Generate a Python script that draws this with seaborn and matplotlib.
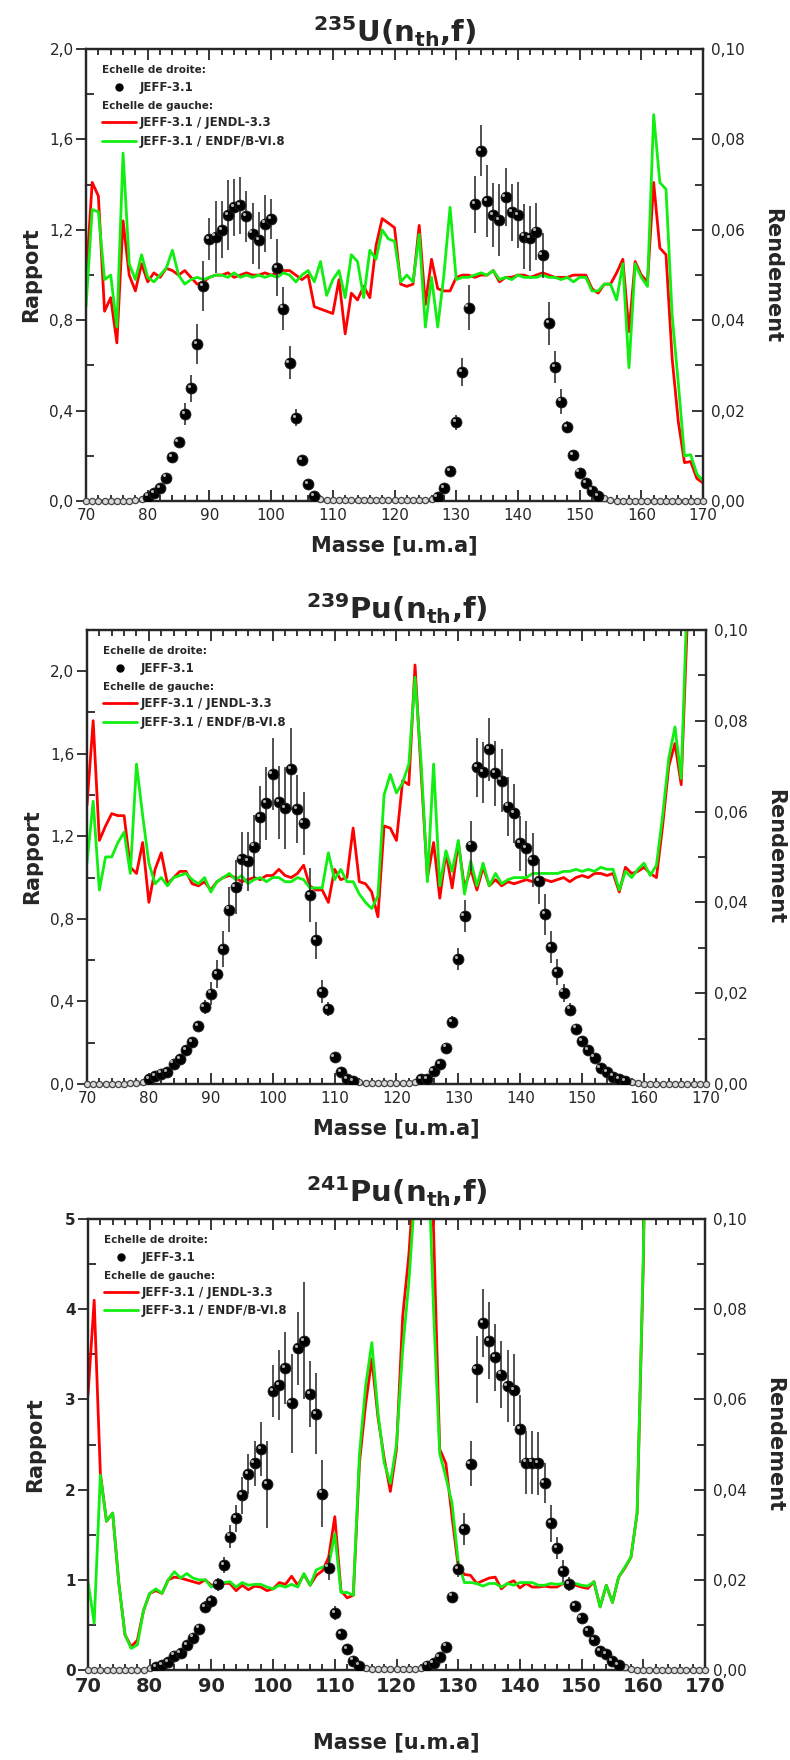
import matplotlib
matplotlib.use("Agg")
import pandas as pd
import matplotlib.pyplot as plt
import seaborn as sns
from matplotlib.lines import Line2D
from matplotlib.ticker import MultipleLocator, FuncFormatter
from matplotlib.transforms import ScaledTranslation

sns.set_style("ticks")
plt.rcParams['font.family'] = ['DejaVu Sans']
plt.rcParams['mathtext.default'] = 'regular'

# Masses 70 ... 170 (u.m.a)
masses = list(range(70, 171))

# ---------------- 235U(nth,f) ----------------
u235_jendl = [
    0.98, 1.41, 1.35, 0.84, 0.90, 0.70, 1.24, 1.00, 0.93, 1.05,
    0.97, 1.01, 0.99, 1.03, 1.02, 1.00, 1.02, 0.99, 0.96, 0.97,
    0.99, 1.00, 1.00, 1.01, 0.99, 1.00, 1.01, 1.00, 1.00, 1.01,
    1.00, 1.01, 1.02, 1.02, 1.00, 0.98, 1.00, 0.86, 0.85, 0.84,
    0.83, 0.98, 0.74, 0.92, 0.89, 0.95, 0.90, 1.13, 1.25, 1.23,
    1.21, 0.96, 0.95, 0.96, 1.22, 0.87, 1.07, 0.94, 0.93, 0.93,
    0.99, 1.00, 1.00, 0.99, 1.00, 1.00, 1.02, 0.97, 0.99, 0.99,
    1.00, 1.00, 0.99, 1.00, 1.01, 1.00, 0.99, 0.99, 0.99, 1.00,
    1.00, 1.00, 0.94, 0.92, 0.96, 0.96, 1.01, 1.07, 0.75, 1.06,
    1.00, 0.97, 1.41, 1.12, 1.09, 0.63, 0.35, 0.17, 0.175, 0.10,
    0.08]
u235_endf = [
    0.86, 1.29, 1.28, 0.98, 1.00, 0.77, 1.54, 1.05, 0.98, 1.09,
    0.99, 0.97, 1.00, 1.03, 1.11, 1.00, 0.96, 0.98, 0.99, 0.98,
    0.99, 1.00, 1.00, 0.99, 1.01, 0.99, 1.00, 0.99, 1.00, 0.99,
    1.00, 0.99, 1.01, 1.00, 0.97, 1.00, 1.02, 0.97, 1.06, 0.91,
    0.98, 1.02, 0.90, 1.09, 1.06, 0.90, 1.11, 1.07, 1.20, 1.16,
    1.15, 0.97, 1.00, 0.97, 1.18, 0.77, 0.99, 0.77, 1.00, 1.30,
    0.98, 0.99, 0.99, 1.00, 1.01, 1.00, 1.02, 0.98, 0.99, 0.98,
    1.00, 0.99, 0.99, 0.99, 1.00, 0.99, 0.99, 0.98, 0.99, 0.97,
    0.99, 0.99, 0.93, 0.93, 0.96, 0.96, 0.89, 1.05, 0.59, 1.05,
    0.99, 0.95, 1.71, 1.41, 1.38, 0.82, 0.52, 0.20, 0.205, 0.12,
    0.09]
u235_yield = [
    0, 0, 0, 0, 0, 0, 0.0001, 0.0001, 0.0002, 0.0005,
    0.0010, 0.0018, 0.0028, 0.0052, 0.0097, 0.0130, 0.0192, 0.0250, 0.0347, 0.0476,
    0.0580, 0.0585, 0.0600, 0.0633, 0.0650, 0.0654, 0.0630, 0.0592, 0.0577, 0.0614,
    0.0624, 0.0516, 0.0426, 0.0306, 0.0184, 0.0091, 0.0038, 0.0011, 0.0005, 0.0003,
    0.0002, 0.0002, 0.0002, 0.0002, 0.0002, 0.0002, 0.0002, 0.0002, 0.0002, 0.0002,
    0.0002, 0.0002, 0.0002, 0.0002, 0.0002, 0.0002, 0.0004, 0.0008, 0.0028, 0.0066,
    0.0174, 0.0285, 0.0428, 0.0657, 0.0775, 0.0664, 0.0633, 0.0622, 0.0673, 0.0639,
    0.0633, 0.0585, 0.0581, 0.0596, 0.0544, 0.0393, 0.0296, 0.0220, 0.0164, 0.0102,
    0.0063, 0.0039, 0.0023, 0.0011, 0.0006, 0.0003, 0.0001, 0, 0, 0,
    0, 0, 0, 0, 0, 0, 0, 0, 0, 0,
    0]
u235_err = [
    0, 0, 0, 0, 0, 0, 0, 0, 0, 0,
    0, 0, 0, 0.0004, 0.0006, 0.0008, 0.0024, 0.0030, 0.0044, 0.0055,
    0.0046, 0.0080, 0.0063, 0.0077, 0.0063, 0.0063, 0.0057, 0.0068, 0.0063, 0.0063,
    0.0045, 0.0063, 0.0048, 0.0036, 0.0019, 0.0008, 0.0004, 0, 0, 0,
    0, 0, 0, 0, 0, 0, 0, 0, 0, 0,
    0, 0, 0, 0, 0, 0, 0, 0, 0.0004, 0.0008,
    0.0016, 0.0031, 0.0049, 0.0063, 0.0056, 0.0079, 0.0070, 0.0080, 0.0064, 0.0063,
    0.0073, 0.0072, 0.0072, 0.0063, 0.0050, 0.0048, 0.0035, 0.0028, 0.0014, 0.0008,
    0.0004, 0, 0, 0, 0, 0, 0, 0, 0, 0,
    0, 0, 0, 0, 0, 0, 0, 0, 0, 0,
    0]

# ---------------- 239Pu(nth,f) ----------------
pu239_jendl = [
    1.35, 1.76, 1.18, 1.25, 1.31, 1.30, 1.30, 1.05, 1.02, 1.17,
    0.88, 1.04, 1.12, 0.97, 1.00, 1.03, 1.03, 0.97, 0.96, 0.98,
    0.94, 0.98, 1.00, 1.01, 1.00, 0.98, 0.99, 1.00, 0.99, 1.01,
    1.01, 1.04, 1.01, 1.00, 1.02, 1.06, 0.96, 0.94, 0.94, 0.88,
    1.04, 0.99, 1.00, 1.24, 0.98, 0.97, 0.93, 0.81, 1.25, 1.24,
    1.18, 1.47, 1.45, 2.03, 1.50, 1.00, 1.17, 0.90, 1.12, 0.95,
    1.17, 0.95, 1.04, 0.94, 1.05, 0.96, 0.99, 0.96, 0.98, 0.97,
    0.98, 0.99, 0.98, 1.00, 0.99, 0.98, 0.99, 1.00, 0.98, 1.00,
    1.01, 1.00, 1.02, 1.02, 1.01, 1.02, 0.93, 1.05, 1.02, 1.03,
    1.05, 1.02, 1.00, 1.25, 1.54, 1.65, 1.45, 2.25, 2.90, 3.10,
    3.30]
pu239_endf = [
    1.07, 1.37, 0.94, 1.10, 1.10, 1.17, 1.22, 1.02, 1.55, 1.30,
    1.07, 0.97, 1.00, 0.96, 1.00, 1.01, 1.02, 0.99, 0.97, 1.00,
    0.93, 0.98, 1.00, 1.02, 0.99, 1.01, 0.97, 0.99, 1.00, 0.98,
    1.00, 1.00, 0.98, 0.98, 1.00, 0.99, 0.95, 0.95, 0.95, 1.12,
    0.99, 1.04, 0.98, 0.98, 0.92, 0.88, 0.85, 0.91, 1.40, 1.50,
    1.41, 1.46, 1.55, 1.97, 1.55, 0.98, 1.55, 0.96, 1.13, 1.03,
    1.18, 0.92, 1.08, 0.96, 1.07, 0.96, 1.02, 0.97, 0.99, 1.00,
    1.00, 1.00, 1.02, 1.02, 1.02, 1.02, 1.02, 1.03, 1.03, 1.04,
    1.03, 1.04, 1.03, 1.05, 1.04, 1.04, 0.94, 1.03, 1.00, 1.04,
    1.07, 1.01, 1.06, 1.30, 1.58, 1.73, 1.48, 2.40, 3.00, 3.20,
    3.40]
pu239_yield = [
    0, 0, 0, 0, 0, 0, 0.0001, 0.0002, 0.0003, 0.0005,
    0.0010, 0.0018, 0.0023, 0.0027, 0.0045, 0.0054, 0.0075, 0.0093, 0.0128, 0.0169,
    0.0199, 0.0242, 0.0297, 0.0384, 0.0434, 0.0496, 0.0491, 0.0523, 0.0587, 0.0618,
    0.0683, 0.0620, 0.0607, 0.0693, 0.0605, 0.0574, 0.0416, 0.0316, 0.0203, 0.0165,
    0.0059, 0.0027, 0.0011, 0.0007, 0.0004, 0.0003, 0.0003, 0.0003, 0.0003, 0.0003,
    0.0003, 0.0003, 0.0003, 0.0004, 0.0010, 0.0011, 0.0029, 0.0043, 0.0080, 0.0137,
    0.0275, 0.0370, 0.0525, 0.0697, 0.0686, 0.0737, 0.0684, 0.0668, 0.0611, 0.0596,
    0.0530, 0.0519, 0.0493, 0.0446, 0.0374, 0.0301, 0.0247, 0.0201, 0.0164, 0.0122,
    0.0095, 0.0075, 0.0058, 0.0035, 0.0027, 0.0016, 0.0010, 0.0007, 0.0005, 0.0002,
    0.0001, 0, 0, 0, 0, 0, 0, 0, 0, 0,
    0]
pu239_err = [
    0, 0, 0, 0, 0, 0, 0, 0, 0, 0,
    0, 0, 0, 0, 0.0003, 0.0004, 0.0006, 0.0008, 0.0010, 0.0015,
    0.0025, 0.0030, 0.0040, 0.0050, 0.0060, 0.0060, 0.0065, 0.0070, 0.0070, 0.0080,
    0.0080, 0.0080, 0.0090, 0.0090, 0.0075, 0.0070, 0.0060, 0.0040, 0.0025, 0.0015,
    0.0006, 0.0003, 0, 0, 0, 0, 0, 0, 0, 0,
    0, 0, 0, 0, 0, 0, 0.0003, 0.0005, 0.0008, 0.0012,
    0.0025, 0.0035, 0.0055, 0.0065, 0.0068, 0.0070, 0.0072, 0.0070, 0.0065, 0.0065,
    0.0060, 0.0060, 0.0060, 0.0050, 0.0045, 0.0035, 0.0028, 0.0020, 0.0015, 0.0010,
    0.0007, 0.0005, 0.0003, 0, 0, 0, 0, 0, 0, 0,
    0, 0, 0, 0, 0, 0, 0, 0, 0, 0,
    0]

# ---------------- 241Pu(nth,f) ----------------
pu241_jendl = [
    3.05, 4.10, 2.18, 1.65, 1.74, 0.96, 0.39, 0.26, 0.33, 0.66,
    0.85, 0.88, 0.85, 1.00, 1.03, 1.02, 1.00, 0.98, 0.96, 1.00,
    0.94, 0.92, 0.96, 0.96, 0.88, 0.94, 0.89, 0.93, 0.92, 0.88,
    0.90, 0.97, 0.95, 1.04, 0.94, 1.06, 0.94, 1.05, 1.10, 1.25,
    1.70, 0.88, 0.80, 0.83, 2.30, 2.95, 3.45, 2.80, 2.35, 1.98,
    2.45, 3.92, 4.60, 5.60, 7.00, 6.50, 4.90, 2.45, 2.29, 1.70,
    1.15, 1.06, 1.05, 0.96, 0.99, 1.02, 1.03, 0.90, 0.96, 0.99,
    0.91, 0.96, 0.92, 0.92, 0.93, 0.92, 0.92, 0.96, 0.94, 0.94,
    0.92, 0.905, 0.98, 0.70, 0.94, 0.75, 1.03, 1.13, 1.25, 1.74,
    4.50, 9.00, 12.0, 14.0, 15.0, 16.0, 16.0, 17.0, 17.0, 18.0,
    18.0]
pu241_endf = [
    0.98, 0.52, 2.16, 1.65, 1.74, 0.96, 0.39, 0.24, 0.28, 0.66,
    0.85, 0.90, 0.85, 1.00, 1.09, 1.02, 1.07, 1.02, 1.00, 1.00,
    0.92, 0.97, 0.97, 0.98, 0.92, 0.97, 0.94, 0.95, 0.95, 0.92,
    0.90, 0.94, 0.92, 0.95, 0.92, 1.07, 0.94, 1.11, 1.14, 1.16,
    1.51, 0.86, 0.86, 0.83, 2.40, 3.15, 3.63, 2.85, 2.30, 2.07,
    2.50, 3.55, 4.30, 5.30, 7.00, 6.00, 4.00, 2.40, 2.14, 1.85,
    1.20, 0.97, 0.97, 0.96, 0.93, 0.96, 0.96, 0.92, 0.96, 0.94,
    0.97, 0.97, 0.97, 0.94, 0.94, 0.96, 0.95, 0.96, 0.98, 0.96,
    0.94, 0.93, 0.98, 0.70, 0.94, 0.75, 1.03, 1.14, 1.25, 1.74,
    4.60, 9.00, 12.0, 14.0, 15.0, 16.0, 16.0, 17.0, 17.0, 18.0,
    18.0]
pu241_yield = [
    0, 0, 0, 0, 0, 0, 0, 0, 0, 0.0001,
    0.0004, 0.0007, 0.0011, 0.0017, 0.0032, 0.0038, 0.0055, 0.0072, 0.0092, 0.0140,
    0.0152, 0.0190, 0.0233, 0.0296, 0.0336, 0.0387, 0.0435, 0.0458, 0.0490, 0.0412,
    0.0619, 0.0632, 0.0670, 0.0591, 0.0713, 0.0730, 0.0612, 0.0568, 0.0391, 0.0227,
    0.0126, 0.0079, 0.0046, 0.0021, 0.0010, 0.0004, 0.0002, 0.0002, 0.0002, 0.0002,
    0.0002, 0.0002, 0.0002, 0.0002, 0.0004, 0.0010, 0.0015, 0.0028, 0.0052, 0.0163,
    0.0224, 0.0313, 0.0457, 0.0667, 0.0770, 0.0730, 0.0693, 0.0655, 0.0630, 0.0621,
    0.0534, 0.0460, 0.0460, 0.0458, 0.0415, 0.0325, 0.0271, 0.0220, 0.0191, 0.0142,
    0.0116, 0.0087, 0.0066, 0.0042, 0.0035, 0.0020, 0.0011, 0.0006, 0.0002, 0.0001,
    0, 0, 0, 0, 0, 0, 0, 0, 0, 0,
    0]
pu241_err = [
    0, 0, 0, 0, 0, 0, 0, 0, 0, 0,
    0, 0, 0, 0, 0, 0, 0.0004, 0.0006, 0.0008, 0.0012,
    0.0015, 0.0015, 0.0018, 0.0025, 0.0030, 0.0040, 0.0045, 0.0050, 0.0060, 0.0096,
    0.0058, 0.0078, 0.0080, 0.0110, 0.0080, 0.0130, 0.0074, 0.0090, 0.0074, 0.0028,
    0.0015, 0.0010, 0.0005, 0, 0, 0, 0, 0, 0, 0,
    0, 0, 0, 0, 0, 0, 0, 0.0004, 0.0007, 0.0010,
    0.0018, 0.0035, 0.0050, 0.0074, 0.0075, 0.0085, 0.0075, 0.0075, 0.0080, 0.0080,
    0.0075, 0.0070, 0.0070, 0.0070, 0.0045, 0.0040, 0.0025, 0.0025, 0.0015, 0.0010,
    0.0006, 0.0004, 0, 0, 0, 0, 0, 0, 0, 0,
    0, 0, 0, 0, 0, 0, 0, 0, 0, 0,
    0]

ROUGE = '#ff0000'
VERT = '#11ee11'


def virgule(fmt):
    return FuncFormatter(lambda v, p: fmt.format(v).replace('.', ','))


def tracer_panneau(fig, rect, titre, jendl, endf, rend, err, ymax, major, minor, fmt,
                   gros=False, title_pad=4, xpad=9, ypad=6):
    df = pd.DataFrame({'masse': masses, 'jendl': jendl, 'endf': endf,
                       'rendement': rend, 'err': err})

    ax = fig.add_axes(rect)
    sns.lineplot(data=df, x='masse', y='jendl', ax=ax, color=ROUGE, lw=2, legend=False, zorder=3)
    sns.lineplot(data=df, x='masse', y='endf', ax=ax, color=VERT, lw=2, legend=False, zorder=4)
    ax.set_xlim(70, 170)
    ax.set_ylim(0, ymax)

    ax2 = ax.twinx()
    ax2.errorbar(df['masse'], df['rendement'], yerr=df['err'], fmt='none',
                 ecolor='#333333', elinewidth=1.2, capsize=0, zorder=4)
    petits = df[df['rendement'] < 0.0007]
    gros_pts = df[df['rendement'] >= 0.0007]
    sns.scatterplot(data=petits, x='masse', y='rendement', ax=ax2, s=20, color='#d9d9d9',
                    edgecolor='#444444', linewidth=0.9, zorder=5, clip_on=False, legend=False)
    sns.scatterplot(data=gros_pts, x='masse', y='rendement', ax=ax2, s=62, color='black',
                    edgecolor='#222222', linewidth=0.6, zorder=6, legend=False)
    # petit reflet sur les spheres
    reflet = ax2.transData + ScaledTranslation(-1.6 / 72, 1.6 / 72, fig.dpi_scale_trans)
    ax2.scatter(gros_pts['masse'], gros_pts['rendement'], s=5, color='#b0b0b0',
                transform=reflet, zorder=7, linewidths=0)
    ax2.set_ylim(0, 0.10)

    # axes et graduations
    for a in (ax, ax2):
        for sp in a.spines.values():
            sp.set_linewidth(1.6)
    ax.xaxis.set_major_locator(MultipleLocator(10))
    ax.xaxis.set_minor_locator(MultipleLocator(2))
    ax.yaxis.set_major_locator(MultipleLocator(major))
    ax.yaxis.set_minor_locator(MultipleLocator(minor))
    ax.yaxis.set_major_formatter(virgule(fmt))
    ax2.yaxis.set_major_locator(MultipleLocator(0.02))
    ax2.yaxis.set_minor_locator(MultipleLocator(0.01))
    ax2.yaxis.set_major_formatter(virgule('{:.2f}'))

    ax.tick_params(axis='x', which='both', direction='in', top=True, width=1.3)
    ax.tick_params(axis='x', which='major', length=8, labelsize=14 if gros else 11, pad=5)
    ax.tick_params(axis='x', which='minor', length=4)
    ax.tick_params(axis='y', which='major', direction='out', length=7, width=1.3,
                   labelsize=11, pad=2)
    ax.tick_params(axis='y', which='minor', direction='in', length=6, width=1.3)
    ax2.tick_params(axis='y', which='both', direction='in', width=1.3)
    ax2.tick_params(axis='y', which='major', length=8, labelsize=11, pad=6)
    ax2.tick_params(axis='y', which='minor', length=6)
    if gros:
        for lab in ax.get_xticklabels() + ax.get_yticklabels():
            lab.set_fontweight('bold')

    ax.set_xlabel('Masse [u.m.a]', fontsize=15, fontweight='bold', labelpad=xpad)
    ax.set_ylabel('Rapport', fontsize=15, fontweight='bold', labelpad=ypad)
    ax2.set_ylabel('Rendement', fontsize=15, fontweight='bold', rotation=270,
                   va='bottom', labelpad=12)
    ax.set_title(titre, fontsize=21, fontweight='bold', pad=title_pad)

    # legende en deux blocs
    prop_titre = {'weight': 'bold', 'size': 7.5}
    prop = {'weight': 'bold', 'size': 8.5}
    leg1 = ax2.legend(handles=[Line2D([], [], marker='o', ls='none', color='black', markersize=5)],
                      labels=['JEFF-3.1'], title='Echelle de droite:', loc='upper left',
                      bbox_to_anchor=(0.026, 0.965), frameon=False, prop=prop,
                      title_fontproperties=prop_titre, alignment='left', borderpad=0,
                      borderaxespad=0, handlelength=2.9, handletextpad=0.3)
    ax2.add_artist(leg1)
    ax2.legend(handles=[Line2D([], [], color=ROUGE, lw=2), Line2D([], [], color=VERT, lw=2)],
               labels=['JEFF-3.1 / JENDL-3.3', 'JEFF-3.1 / ENDF/B-VI.8'],
               title='Echelle de gauche:', loc='upper left', bbox_to_anchor=(0.026, 0.885),
               frameon=False, prop=prop, title_fontproperties=prop_titre, alignment='left',
               borderpad=0, borderaxespad=0, handlelength=2.9, handletextpad=0.3,
               labelspacing=0.45)
    return ax, ax2


fig = plt.figure(figsize=(7.9, 17.6), dpi=100)

tracer_panneau(fig, [0.1089, 0.7153, 0.7810, 0.2568], r'$^{235}$U(n$_{th}$,f)',
               u235_jendl, u235_endf, u235_yield, u235_err, 2.0, 0.4, 0.2, '{:.1f}',
               title_pad=4, xpad=9, ypad=6)
tracer_panneau(fig, [0.1101, 0.3841, 0.7835, 0.2580], r'$^{239}$Pu(n$_{th}$,f)',
               pu239_jendl, pu239_endf, pu239_yield, pu239_err, 2.2, 0.4, 0.2, '{:.1f}',
               title_pad=8, xpad=9, ypad=6)
tracer_panneau(fig, [0.1114, 0.0511, 0.7810, 0.2563], r'$^{241}$Pu(n$_{th}$,f)',
               pu241_jendl, pu241_endf, pu241_yield, pu241_err, 5.0, 1.0, 0.5, '{:.0f}',
               gros=True, title_pad=12, xpad=26, ypad=14)

fig.savefig('out.png', dpi=100)
